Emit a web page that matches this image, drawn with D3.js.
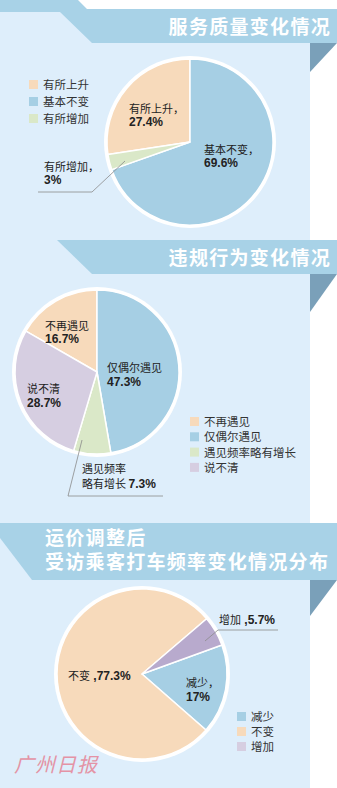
<!DOCTYPE html>
<html>
<head>
<meta charset="utf-8">
<script src="https://cdn.jsdelivr.net/npm/d3@7"></script>
<style>
  body { margin: 0; background: #fff; }
  svg { display: block; font-family: "Noto Sans CJK SC", "Noto Sans", sans-serif; }
</style>
</head>
<body>
<svg width="337" height="788"></svg>
<script>
// chart 1: service quality
const cats1 = ["有所上升", "基本不变", "有所增加"];
const vals1 = [27.4, 69.6, 3];
const order1 = ["基本不变", "有所增加", "有所上升"];

// chart 2: violations
const cats2 = ["不再遇见", "仅偶尔遇见", "遇见频率略有增长", "说不清"];
const vals2 = [16.7, 47.3, 7.3, 28.7];
const order2 = ["仅偶尔遇见", "遇见频率略有增长", "说不清", "不再遇见"];

// chart 3: ride frequency
const cats3 = ["减少", "不变", "增加"];
const vals3 = [17, 77.3, 5.7];

const titles = ["服务质量变化情况", "违规行为变化情况", "运价调整后", "受访乘客打车频率变化情况分布"];

const svg = d3.select("svg");
const W = 337, H = 788;

const PANEL = "#deeefb", BANNER = "#a8d2e7", DARK = "#7aa0b9";
const PEACH = "#f7dabb", BLUE = "#a6cfe4", GREEN = "#dae8c8", LILAC = "#d6cee1", PURPLE = "#b8aacd";

// background panel
svg.append("rect").attr("x", 0).attr("y", 0).attr("width", W).attr("height", H).attr("fill", "#fff");
svg.append("rect").attr("x", 0).attr("y", 12).attr("width", 310).attr("height", H - 12).attr("fill", PANEL);

const poly = pts => "M" + pts.map(p => p.join(",")).join("L") + "Z";

// banners
svg.append("path").attr("fill", BANNER)
  .attr("d", poly([[0,0],[78,0],[87,9],[W,9],[W,43],[92,43],[60,12],[0,12]]));
svg.append("rect").attr("x", 310).attr("y", 43).attr("width", 27).attr("height", 197).attr("fill", "#fff");
svg.append("path").attr("fill", DARK).attr("d", poly([[310,43],[W,43],[310,72]]));

svg.append("path").attr("fill", BANNER)
  .attr("d", poly([[57,240],[W,240],[W,274],[92,274]]));
svg.append("path").attr("fill", DARK).attr("d", poly([[310,274],[W,274],[310,312]]));

svg.append("path").attr("fill", BANNER)
  .attr("d", poly([[0,523],[W,523],[W,580],[32,580],[0,538]]));
svg.append("path").attr("fill", DARK).attr("d", poly([[310,580],[W,580],[310,616]]));

function title(txt, x, y, anchor) {
  svg.append("text")
    .attr("x", x).attr("y", y)
    .attr("text-anchor", anchor)
    .attr("fill", "#fff")
    .attr("font-size", "19px")
    .attr("font-weight", "bold")
    .attr("letter-spacing", "1.3px")
    .text(txt);
}
title(titles[0], 331, 33.5, "end");
title(titles[1], 331, 264.5, "end");
title(titles[2], 45, 545, "start");
title(titles[3], 45, 568.5, "start");

// pies
function drawPie(cx, cy, r, cats, vals, colors, order, start) {
  const data = cats.map((c, i) => ({ name: c, value: vals[i] }));
  const pie = d3.pie().value(d => d.value)
    .sort(order ? (a, b) => order.indexOf(a.name) - order.indexOf(b.name) : null)
    .startAngle(start).endAngle(start + 2 * Math.PI);
  const arc = d3.arc().innerRadius(0).outerRadius(r);
  const g = svg.append("g").attr("transform", `translate(${cx},${cy})`);
  g.append("circle").attr("r", r + 3).attr("fill", "#fff");
  g.selectAll("path")
    .data(pie(data))
    .join("path")
      .attr("d", arc)
      .attr("fill", d => colors(d.data.name))
      .attr("stroke", "#fff")
      .attr("stroke-width", 1.5)
      .attr("stroke-linejoin", "round");
  return g;
}

function legend(x, y, step, cats, colors) {
  const g = svg.append("g").attr("transform", `translate(${x},${y})`);
  cats.forEach((c, i) => {
    const row = g.append("g").attr("transform", `translate(0,${i * step})`);
    row.append("rect").attr("width", 9).attr("height", 9).attr("fill", colors(c));
    row.append("text").attr("x", 14).attr("y", 9)
      .attr("font-size", "11.5px").attr("fill", "#333").text(c);
  });
}

function label(lines, x, y, lh) {
  const t = svg.append("text").attr("x", x).attr("y", y).attr("fill", "#222");
  lines.forEach((ln, i) => {
    const parts = Array.isArray(ln) ? ln : [ln];
    parts.forEach((p, j) => {
      const ts = t.append("tspan").text(p.t);
      if (j === 0) ts.attr("x", x).attr("y", y + i * lh);
      if (p.b) ts.attr("font-weight", "bold").attr("font-family", "'Liberation Sans', Arial, sans-serif").attr("font-size", "12px");
      else ts.attr("font-size", "11px");
    });
  });
}

function leader(pts) {
  svg.append("path").attr("d", "M" + pts.map(p => p.join(",")).join("L"))
    .attr("fill", "none").attr("stroke", "#8a8a8a").attr("stroke-width", 0.8);
}

// chart 1
const color1 = d3.scaleOrdinal().domain(cats1).range([PEACH, BLUE, GREEN]);
drawPie(190, 142, 83, cats1, vals1, color1, order1, 0);
legend(29, 80, 17, cats1, color1);
label([{t: "有所上升，"}, {t: vals1[0] + "%", b: true}], 129, 113, 12.5);
label([{t: "基本不变，"}, {t: vals1[1] + "%", b: true}], 204, 154, 13);
label([{t: "有所增加，"}, {t: vals1[2] + "%", b: true}], 44, 171, 13);
leader([[38,192],[92,192],[125,161]]);

// chart 2
const color2 = d3.scaleOrdinal().domain(cats2).range([PEACH, BLUE, GREEN, LILAC]);
drawPie(97, 372, 82, cats2, vals2, color2, order2, 0);
legend(190, 417, 15.3, cats2, color2);
label([{t: "不再遇见"}, {t: vals2[0] + "%", b: true}], 45, 330, 12.5);
label([{t: "仅偶尔遇见"}, {t: vals2[1] + "%", b: true}], 107, 372, 14);
label([{t: "说不清"}, {t: vals2[3] + "%", b: true}], 27, 393, 14);
label([{t: "遇见频率"}, [{t: "略有增长  "}, {t: vals2[2] + "%", b: true}]], 82, 473, 15);
leader([[82,440],[68,496],[163,496]]);

// chart 3
const color3 = d3.scaleOrdinal().domain(cats3).range([BLUE, PEACH, PURPLE]);
const color3L = d3.scaleOrdinal().domain(cats3).range([BLUE, PEACH, LILAC]);
drawPie(142, 674, 85, cats3, vals3, color3, null, 70 * Math.PI / 180);
legend(237, 712, 15, cats3, color3L);
label([[{t: "增加"}, {t: " ," + vals3[2] + "%", b: true}]], 219, 624, 13);
leader([[278,630],[218,630],[205,641]]);
label([[{t: "不变"}, {t: " ," + vals3[1] + "%", b: true}]], 68, 680, 13);
label([{t: "减少，"}, {t: vals3[0] + "%", b: true}], 186, 687, 13.5);

// watermark
svg.append("text")
  .attr("x", 14).attr("y", 772)
  .attr("font-size", "20px")
  .attr("font-style", "italic")
  .attr("letter-spacing", "1px")
  .attr("fill", "#e58a9c")
  .attr("opacity", 0.9)
  .text("广州日报");
</script>
</body>
</html>
